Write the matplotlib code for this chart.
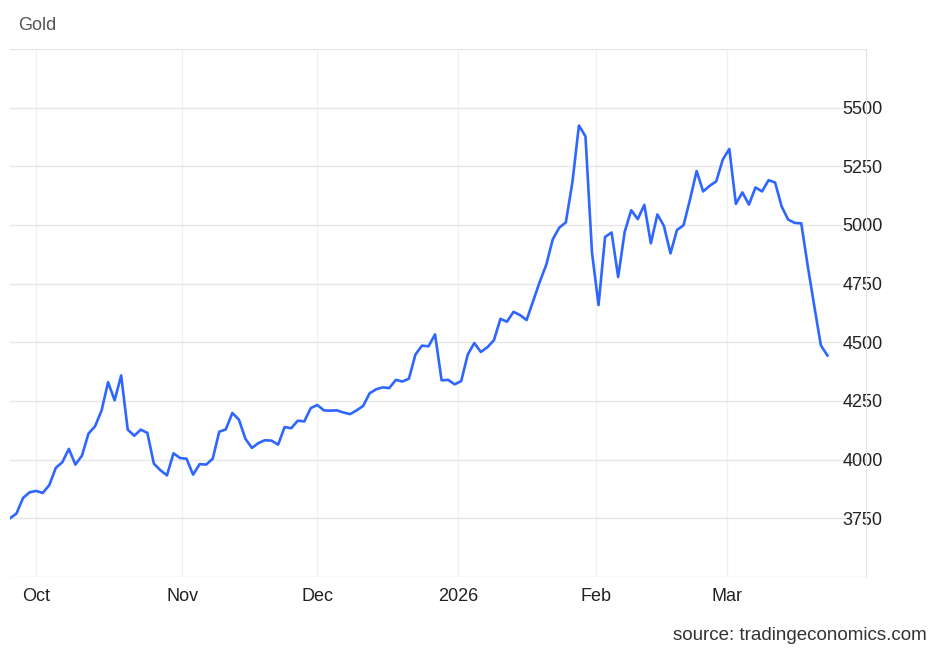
import numpy as np
import pandas as pd
import matplotlib.pyplot as plt

plt.rcParams['font.family'] = ['Liberation Sans', 'DejaVu Sans']

# trading days (weekdays, without Christmas and New Year)
dates = pd.bdate_range('2025-09-25', '2026-03-23')
dates = dates[~dates.isin(pd.to_datetime(['2025-12-25', '2026-01-01']))]

gold_sep_oct = [3750, 3771, 3837, 3861, 3867, 3858, 3891, 3965, 3989, 4046,
                3979, 4017, 4111, 4142, 4209, 4330, 4253, 4359, 4128, 4102,
                4128, 4114, 3983, 3955, 3933]
gold_oct_dec = [4027, 4007, 4004, 3936, 3981, 3979, 4004, 4119, 4129, 4199,
                4171, 4089, 4050, 4071, 4083, 4081, 4064, 4139, 4134, 4166,
                4163, 4220, 4233, 4210, 4209]
gold_dec_jan = [4210, 4201, 4194, 4210, 4229, 4283, 4300, 4308, 4305, 4340,
                4333, 4345, 4448, 4486, 4483, 4534, 4338, 4340, 4321, 4335,
                4448, 4497, 4459, 4479, 4509]
gold_jan_feb = [4600, 4588, 4630, 4616, 4595, 4676, 4757, 4830, 4939, 4989,
                5011, 5182, 5424, 5378, 4882, 4659, 4949, 4968, 4778, 4971,
                5063, 5025, 5086, 4922, 5045, 4996]
gold_feb_mar = [4879, 4979, 4999, 5110, 5230, 5143, 5167, 5186, 5279, 5324,
                5090, 5139, 5087, 5160, 5143, 5191, 5181, 5079, 5023, 5009,
                5007, 4824, 4653, 4487, 4444]

gold = gold_sep_oct + gold_oct_dec + gold_dec_jan + gold_jan_feb + gold_feb_mar
month_ticks = ['2025-10-01', '2025-11-01', '2025-12-01', '2026-01-01', '2026-02-01', '2026-03-01']
month_labels = ['Oct', 'Nov', 'Dec', '2026', 'Feb', 'Mar']
y_ticks = [3500, 3750, 4000, 4250, 4500, 4750, 5000, 5250, 5500, 5750]
y_labels = ['', '3750', '4000', '4250', '4500', '4750', '5000', '5250', '5500', '']

series = pd.Series(gold, index=dates[:len(gold)])
x = np.arange(len(series))

# ordinal axis: month ticks placed between trading days by calendar position
day_num = series.index.map(pd.Timestamp.toordinal).values
tick_pos = np.interp([pd.Timestamp(d).toordinal() for d in month_ticks], day_num, x)

fig = plt.figure(figsize=(9.4, 6.52), dpi=100)
ax = fig.add_axes([10 / 940, 75 / 652, 856 / 940, 528 / 652])

ax.plot(x, series.values, color='#2e66ff', linewidth=1.9)

ax.set_xlim(0, 130.9)
ax.set_ylim(3500, 5750)
ax.set_xticks(tick_pos, month_labels)
ax.set_yticks(y_ticks, y_labels)

ax.grid(axis='y', color='#e6e6e6', linewidth=1)
ax.grid(axis='x', color='#eef2f7', linewidth=1)
for s in ['top', 'left', 'bottom']:
    ax.spines[s].set_visible(False)
ax.spines['right'].set_color('#e3e3e3')

ax.tick_params(axis='x', length=0, pad=8, labelsize=13, labelcolor='#222222')
ax.tick_params(axis='y', left=False, labelleft=False, right=False, labelright=True,
               length=0, pad=-17, labelsize=13, labelcolor='#222222')

fig.text(18 / 940, 1 - 25 / 652, 'Gold', fontsize=13, color='#555555', va='center')
fig.text(927 / 940, 1 - 636 / 652, 'source: tradingeconomics.com', fontsize=13.5,
         color='#333333', ha='right', va='center')

fig.savefig('out.png', dpi=100)
